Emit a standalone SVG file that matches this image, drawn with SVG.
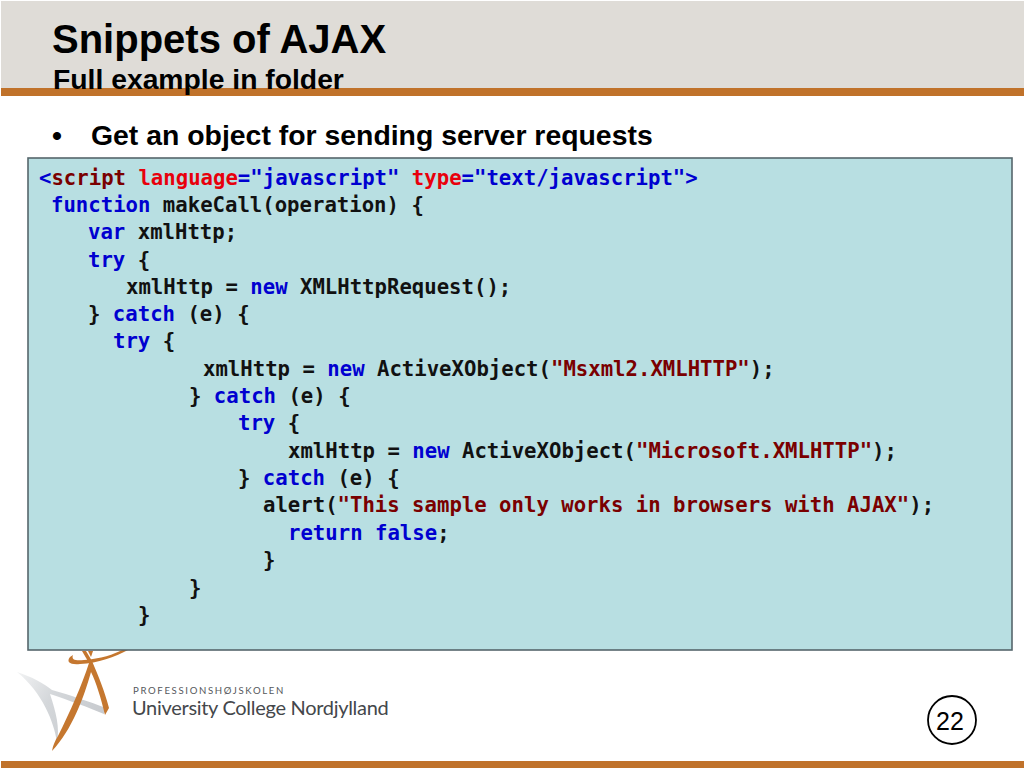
<svg xmlns="http://www.w3.org/2000/svg" width="1024" height="768" viewBox="0 0 1024 768">
<style>
.s{font-family:"Liberation Sans",Arial,sans-serif;font-weight:bold;fill:#000}
.c{font-family:"DejaVu Sans Mono","Liberation Mono",monospace;font-size:20.65px;font-weight:bold;fill:#111;stroke:none}
.k{fill:#0000d0}.m{fill:#7a0000}.r{fill:#e8000c}
.l{font-family:Lato,"Open Sans",sans-serif}
</style>
<defs>
<linearGradient id="wing" x1="0" y1="0" x2="1" y2="0.5"><stop offset="0" stop-color="#f2f3f4"/><stop offset=".45" stop-color="#d4d7da"/><stop offset="1" stop-color="#c8cbcf"/></linearGradient>
</defs>
<rect width="1024" height="768" fill="#fff"/>
<rect id="header" x="1" y="1" width="1023" height="88" fill="#dfdcd7"/>
<rect id="header-rule" x="1" y="88" width="1023" height="8" fill="#c0722a"/>
<text class="s" x="52" y="52.5" font-size="40">Snippets of AJAX</text>
<text class="s" x="53" y="88.5" font-size="28.3">Full example in folder</text>
<text class="s" x="52" y="145" font-size="28.4">•</text>
<text class="s" x="91" y="145" font-size="28.4">Get an object for sending server requests</text>

<g id="logo">
<path d="M17 672C30 676 45 684 52 690C70 695 90 702 106 708L104 714C90 708 68 700 50 694C56 712 60 728 57 742C54 722 42 692 17 672Z" fill="url(#wing)"/>
<path d="M82 651L86 651L92 661C98 675 105 692 109 708L105 715C101 698 96 682 91 672C84 697 72 730 52 751C53 745 55 741 58 736C70 712 82 685 89 663Z" fill="#c5772f"/>
<path d="M128 650C115 657 98 663 80 664C70 665 66 662 70 657L73 655C71 660 76 661 84 660C100 659 115 654 122 650Z" fill="#c5772f"/>
<path d="M88 651L91 657L93 651Z" fill="#c5772f"/>
<text class="l" x="133" y="694" font-size="9.6" letter-spacing="1.65" fill="#55585c">PROFESSIONSHØJSKOLEN</text>
<text class="l" x="132" y="715" font-size="20" letter-spacing="-.3" fill="#44474b">University College Nordjylland</text>
</g>

<rect id="code-box" x="28" y="158" width="984" height="492" fill="#b8dfe2" stroke="#56666c" stroke-width="1.6"/>
<g id="code">
<text class="c" x="39" y="185"><tspan class="k">&lt;</tspan><tspan class="m">script</tspan> <tspan class="r">language</tspan><tspan class="k">="javascript"</tspan> <tspan class="r">type</tspan><tspan class="k">="text/javascript"&gt;</tspan></text>
<text class="c" x="51" y="212"><tspan class="k">function</tspan> makeCall(operation) {</text>
<text class="c" x="88" y="239"><tspan class="k">var</tspan> xmlHttp;</text>
<text class="c" x="88" y="267"><tspan class="k">try</tspan> {</text>
<text class="c" x="126" y="294">xmlHttp = <tspan class="k">new</tspan> XMLHttpRequest();</text>
<text class="c" x="88" y="321">} <tspan class="k">catch</tspan> (e) {</text>
<text class="c" x="113" y="348"><tspan class="k">try</tspan> {</text>
<text class="c" x="203" y="376">xmlHttp = <tspan class="k">new</tspan> ActiveXObject(<tspan class="m">"Msxml2.XMLHTTP"</tspan>);</text>
<text class="c" x="189" y="403">} <tspan class="k">catch</tspan> (e) {</text>
<text class="c" x="238" y="430"><tspan class="k">try</tspan> {</text>
<text class="c" x="288" y="458">xmlHttp = <tspan class="k">new</tspan> ActiveXObject(<tspan class="m">"Microsoft.XMLHTTP"</tspan>);</text>
<text class="c" x="238" y="485">} <tspan class="k">catch</tspan> (e) {</text>
<text class="c" x="263" y="512">alert(<tspan class="m">"This sample only works in browsers with AJAX"</tspan>);</text>
<text class="c" x="288" y="540"><tspan class="k">return</tspan> <tspan class="k">false</tspan>;</text>
<text class="c" x="263" y="567">}</text>
<text class="c" x="189" y="595">}</text>
<text class="c" x="138" y="622">}</text>
</g>

<g id="page-number">
<circle cx="952" cy="720" r="24" fill="#fff" stroke="#000" stroke-width="1.8"/>
<text x="950" y="730" text-anchor="middle" font-family="'Liberation Sans',Arial,sans-serif" font-size="25" fill="#000">22</text>
</g>
<rect id="footer-rule" x="1" y="761" width="1023" height="7" fill="#c0722a"/>
</svg>
